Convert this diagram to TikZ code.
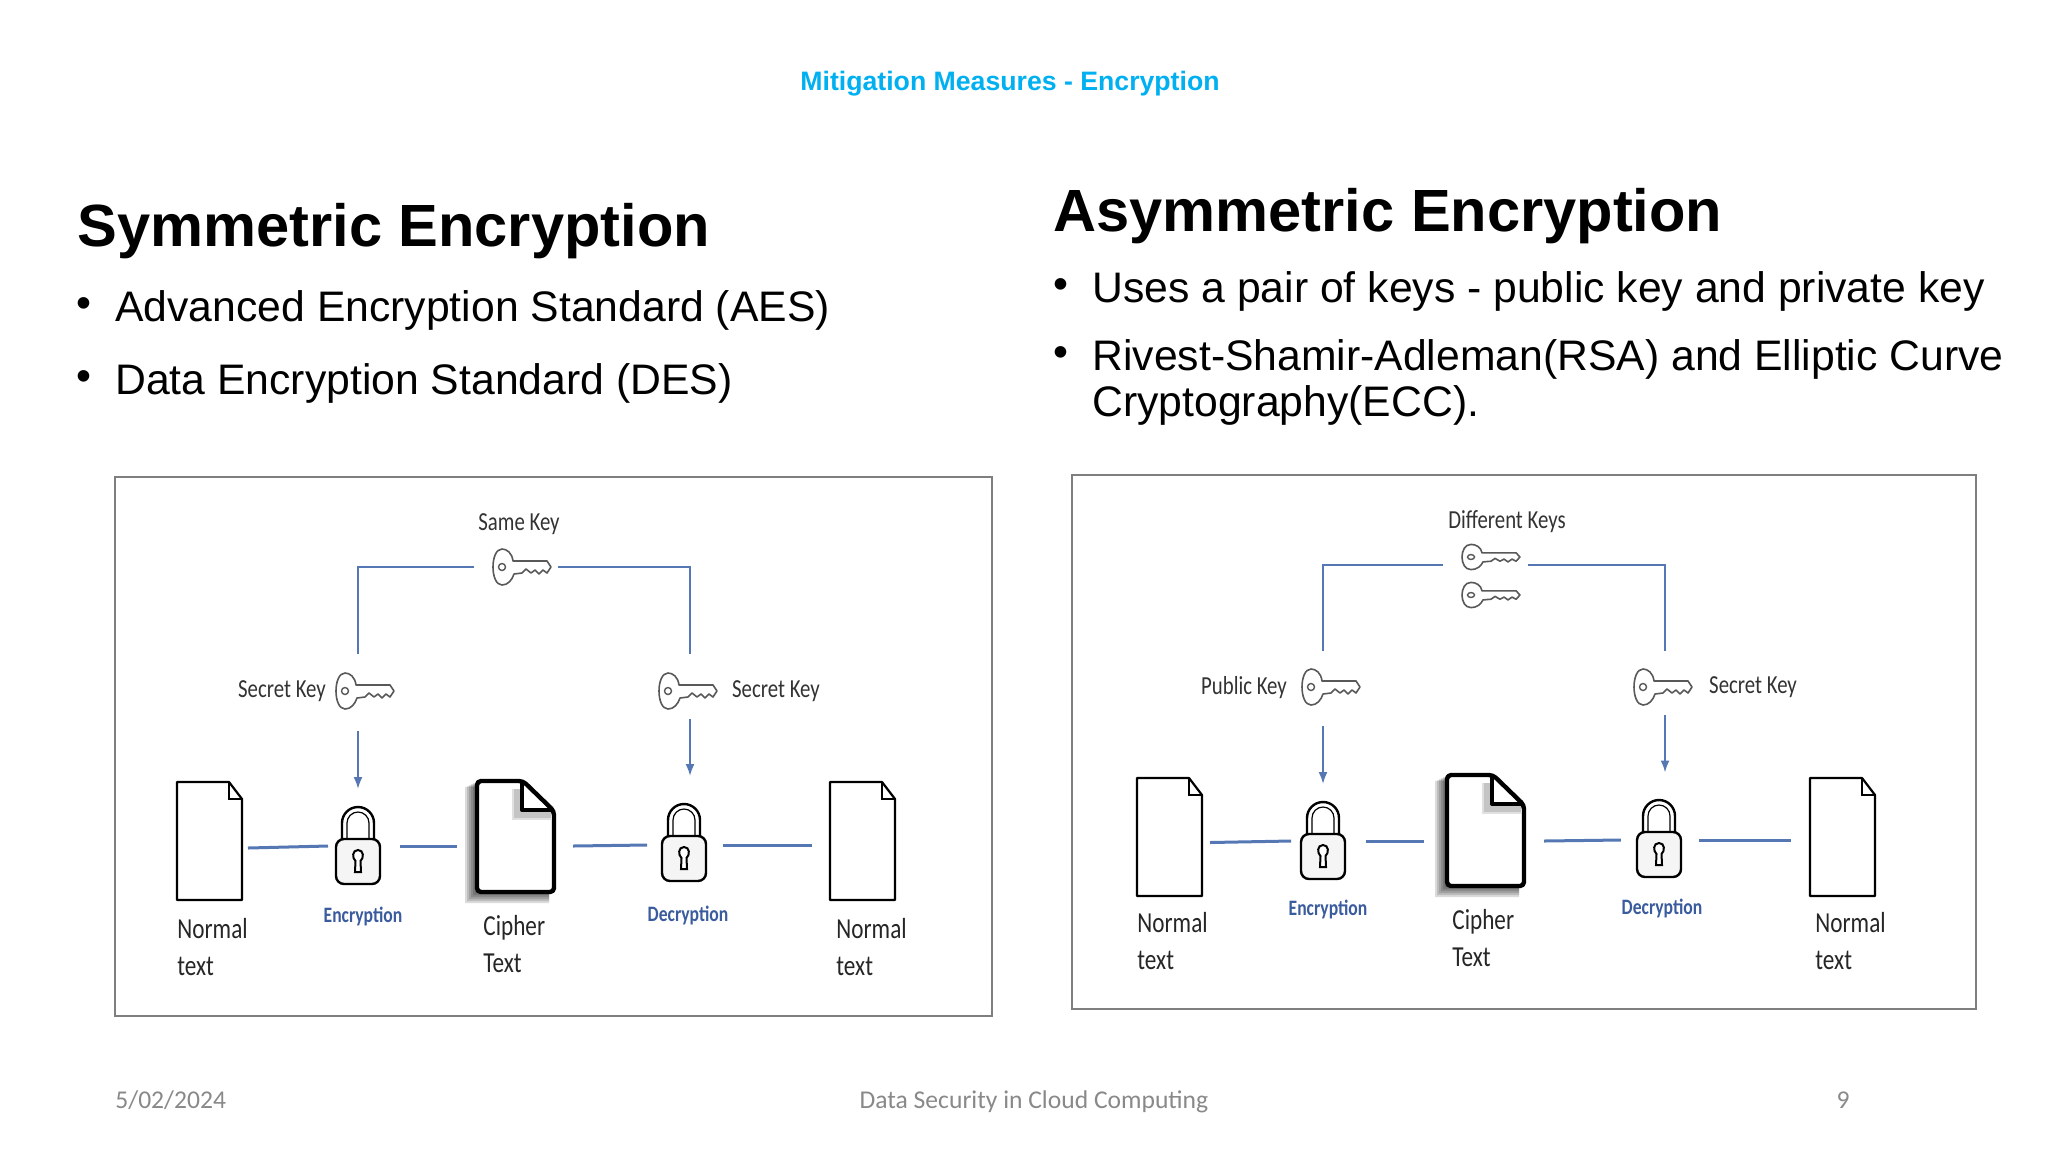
\documentclass[tikz,border=0pt]{standalone}
\usepackage{fontspec}
\usepackage{xcolor}
\usepackage{tikz}
\usetikzlibrary{arrows.meta}
\setmainfont{Liberation Sans}
\newfontfamily\dgmfont[FakeStretch=0.8]{Carlito}
\newfontfamily\footfont{Carlito}
\definecolor{wireblue}{HTML}{5578B5}
\definecolor{labelblue}{HTML}{3A5C9E}
\definecolor{titlecyan}{HTML}{00B0F0}
\definecolor{footgray}{HTML}{898989}
\definecolor{framegray}{HTML}{7F7F7F}
\tikzset{
  keyicon/.pic={
    \draw[draw=black!65,line width=.8pt,line join=round,fill=white]
      (-9,-6) .. controls (-10,-14) and (-15,-18) .. (-20,-18)
      .. controls (-26,-18) and (-29,-9) .. (-29,0)
      .. controls (-29,9) and (-26,18) .. (-20,18)
      .. controls (-14,18) and (-10,13) .. (-8,7)
      -- (0,6) -- (4,2) -- (9,6) -- (13,3) -- (17,7) -- (21,3) -- (25,6)
      -- (29,0) -- (25,-6) -- cycle;
    \draw[draw=black!65,line width=.7pt] (-20,0) circle [radius=3.5];
  },
  lockicon/.pic={
    \draw[line width=1.2pt,line cap=round] (-16,34) -- (-16,16)
      arc[start angle=180,end angle=360,radius=16] -- (16,34);
    \draw[line width=.6pt] (-11,34) -- (-11,16)
      arc[start angle=180,end angle=360,radius=11] -- (11,34);
    \draw[line width=1.2pt,fill=black!4,rounded corners=4pt] (-22,32) rectangle (22,77);
    \draw[line width=1pt,fill=white] (-2.5,54) .. controls (-6,51) and (-6,43) .. (0,43)
      .. controls (6,43) and (6,51) .. (2.5,54) -- (3,65) -- (-3,65) -- cycle;
  },
  smalldoc/.pic={
    \draw[line width=1.1pt,line join=round,fill=white] (0,0) -- (52,0) -- (65,17) -- (65,118) -- (0,118) -- cycle;
    \draw[line width=.8pt] (52,0) -- (52,17) -- (65,17);
  },
  bigdoc/.pic={
    \foreach \s in {2,4,6,8,10,12}
      \fill[black,opacity=.14] (-\s,\s*.5) -- (40,\s*.5) -- (40,30) -- (72,30) -- (72,110+\s) -- (-\s,110+\s) -- cycle;
    \draw[line width=2.2pt,line join=round,rounded corners=2pt,fill=white] (0,0) -- (46,0) -- (77,30) -- (77,111) -- (0,111) -- cycle;
    \foreach \s in {2,4,6,8}
      \draw[black,line width=2pt,opacity=.12] (45-\s,8) -- (45-\s,29+\s) -- (74,29+\s);
    \draw[line width=2.2pt,line join=round] (45,1) -- (45,29) -- (76,29);
  }
}
\begin{document}
\begin{tikzpicture}[
    x=.5pt,y=-.5pt,
    titletext/.style={inner sep=0pt,text=titlecyan,font=\fontsize{13.33}{16}\selectfont\bfseries},
    headtext/.style={inner sep=0pt,anchor=base west,font=\fontsize{29.8}{34}\selectfont\bfseries},
    itemtext/.style={inner sep=0pt,anchor=base west,align=left,font=\fontsize{21.35}{23}\selectfont},
    dgmtext/.style={inner sep=0pt,font=\dgmfont\fontsize{13}{16}\selectfont,text=black!80},
    doctext/.style={inner sep=0pt,anchor=base west,align=left,font=\dgmfont\fontsize{14.5}{18.5}\selectfont,text=black!85},
    bluetext/.style={inner sep=0pt,text=labelblue,font=\dgmfont\fontsize{11}{13}\selectfont\bfseries},
    foottext/.style={inner sep=0pt,text=footgray,font=\footfont\fontsize{12.8}{15}\selectfont},
    iconbox/.style 2 args={inner sep=0pt,outer sep=0pt,minimum width=#1*.5pt,minimum height=#2*.5pt},
    wire/.style={draw=wireblue,line width=1.5pt},
    riser/.style={draw=wireblue,line width=1.1pt},
    flow/.style={draw=wireblue,line width=1pt,-{Latex[length=6pt,width=4.5pt]}},
    panel/.style={draw=framegray,line width=1.2pt}
  ]
  \useasboundingbox (0,0) rectangle (2048,1152);
  \fill[white] (0,0) rectangle (2048,1152);

  \node[titletext] (title) at (1010,83.5) {Mitigation Measures - Encryption};
  \node[headtext] (symhead) at (77,246) {Symmetric Encryption};
  \node[headtext] (asymhead) at (1053,231) {Asymmetric Encryption};
  \node[itemtext] (bulA) at (76,317) {•};
  \node[itemtext] (aes) at (115,321.5) {Advanced Encryption Standard (AES)};
  \node[itemtext] (bulB) at (76,390) {•};
  \node[itemtext] (des) at (115,394) {Data Encryption Standard (DES)};
  \node[itemtext] (bulC) at (1053,298) {•};
  \node[itemtext] (pair) at (1092,302) {Uses a pair of keys - public key and private key};
  \node[itemtext] (bulD) at (1053,366) {•};
  \node[itemtext] (rsa) at (1092,370) {Rivest-Shamir-Adleman(RSA) and Elliptic Curve};
  \node[itemtext] (ecc) at (1092,416) {Cryptography(ECC).};

  \draw[panel] (115,477) rectangle (992,1016);
  \draw[panel] (1072,475) rectangle (1976,1009);

  \node[dgmtext] (same) at (519,524.5) {Same Key};
  \node[dgmtext] (secretA) at (282,691.5) {Secret Key};
  \node[dgmtext] (secretB) at (776,691.5) {Secret Key};
  \node[bluetext] (enc) at (363,916) {Encryption};
  \node[bluetext] (dec) at (688,915) {Decryption};
  \node[doctext] (normalA) at (177,975.5) {Normal\\text};
  \node[doctext] (cipherA) at (483,972) {Cipher\\Text};
  \node[doctext] (normalB) at (836,975.5) {Normal\\text};

  \pic at (522,567) {keyicon};
  \pic at (365,691) {keyicon};
  \pic at (688,691) {keyicon};
  \pic at (358,807) {lockicon};
  \pic at (684,804) {lockicon};
  \pic at (177,782) {smalldoc};
  \pic at (477,781) {bigdoc};
  \pic at (830,782) {smalldoc};

  \node[iconbox={83.5}{20}] (keyS) at (516,567) {};
  \node[iconbox={2}{77}] (keyA) at (358,692.5) {};
  \node[iconbox={2}{65}] (keyB) at (690,686.5) {};
  \node[iconbox={71}{20}] (docA) at (212.5,848) {};
  \node[iconbox={72}{114}] (lockA) at (364,846) {};
  \node[iconbox={116}{20}] (cipherbox) at (515,846) {};
  \node[iconbox={76}{138}] (lockB) at (685,845) {};
  \node[iconbox={83}{20}] (docB) at (853.5,845) {};

  \draw[riser] (keyS.west) -| (keyA.north);
  \draw[riser] (keyS.east) -| (keyB.north);
  \draw[flow] (keyA.south) -- (keyA.south |- lockA.north);
  \draw[flow] (keyB.south) -- (keyB.south |- lockB.north);
  \draw[wire] (docA.east) -- (lockA.west);
  \draw[wire] (lockA.east) -- (cipherbox.west);
  \draw[wire] (cipherbox.east) -- (lockB.west);
  \draw[wire] (lockB.east) -- (docB.west);

  \node[dgmtext] (different) at (1507,521.5) {Different Keys};
  \node[dgmtext] (public) at (1244,687.5) {Public Key};
  \node[dgmtext] (secretC) at (1753,687.5) {Secret Key};
  \node[bluetext] (encB) at (1328,909) {Encryption};
  \node[bluetext] (decB) at (1662,908) {Decryption};
  \node[doctext] (normalC) at (1137,969) {Normal\\text};
  \node[doctext] (cipherC) at (1452,966) {Cipher\\Text};
  \node[doctext] (normalD) at (1815,969) {Normal\\text};

  \pic[yscale=.7] at (1491,557) {keyicon};
  \pic[yscale=.7] at (1491,595) {keyicon};
  \pic at (1331,687) {keyicon};
  \pic at (1663,687) {keyicon};
  \pic at (1323,802) {lockicon};
  \pic at (1659,800) {lockicon};
  \pic at (1137,778) {smalldoc};
  \pic at (1447,775) {bigdoc};
  \pic at (1810,778) {smalldoc};

  \node[iconbox={85}{20}] (keyT) at (1485.5,565) {};
  \node[iconbox={2}{75}] (keyC) at (1323,688.5) {};
  \node[iconbox={2}{64}] (keyD) at (1665,683) {};
  \node[iconbox={74}{20}] (docC) at (1173,842.5) {};
  \node[iconbox={75}{114}] (lockC) at (1328.5,841) {};
  \node[iconbox={120}{20}] (cipherboxB) at (1484,841) {};
  \node[iconbox={78.5}{135}] (lockD) at (1660,840) {};
  \node[iconbox={85}{20}] (docD) at (1833,840) {};

  \draw[riser] (keyT.west) -| (keyC.north);
  \draw[riser] (keyT.east) -| (keyD.north);
  \draw[flow] (keyC.south) -- (keyC.south |- lockC.north);
  \draw[flow] (keyD.south) -- (keyD.south |- lockD.north);
  \draw[wire] (docC.east) -- (lockC.west);
  \draw[wire] (lockC.east) -- (cipherboxB.west);
  \draw[wire] (cipherboxB.east) -- (lockD.west);
  \draw[wire] (lockD.east) -- (docD.west);

  \node[foottext,anchor=west] (date) at (115,1100.5) {5/02/2024};
  \node[foottext] (footer) at (1034,1102) {Data Security in Cloud Computing};
  \node[foottext] (pageno) at (1843,1100.5) {9};
\end{tikzpicture}
\end{document}
